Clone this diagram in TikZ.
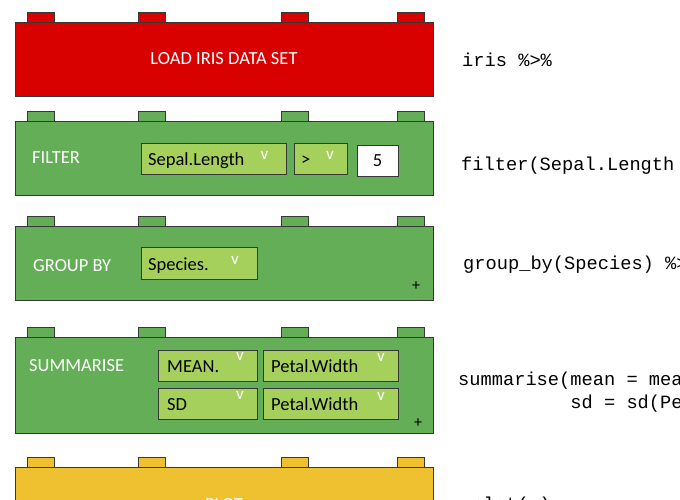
\documentclass[tikz,border=0pt]{standalone}
\usepackage{fontspec}
\setmainfont{Carlito}
\newfontfamily\codefont{Liberation Mono}

\definecolor{edge}{RGB}{55,55,55}
\definecolor{loadred}{RGB}{217,0,0}
\definecolor{verbgreen}{RGB}{99,174,86}
\definecolor{dropgreen}{RGB}{166,208,92}
\definecolor{plotyellow}{RGB}{239,192,48}

% a brick: four studs on top of a wide body
% #1 name, #2 top edge of the body, #3 body height, #4 fill colour
\newcommand{\legobrick}[4]{%
  \foreach \sx [count=\i] in {27,138,281,397}
    \node[stud, fill=#4] (#1-stud\i) at (\sx,#2) {};
  \node[block, fill=#4, minimum height=#3pt] (#1) at (15,#2) {};
}

\begin{document}
\begin{tikzpicture}[x=1pt, y=-1pt,
  block/.style={draw=edge, line width=0.9pt, minimum width=418pt,
    anchor=north west, inner sep=0pt, outer sep=0pt},
  stud/.style={draw=edge, line width=0.9pt, minimum width=27pt,
    minimum height=10pt, anchor=south west, inner sep=0pt, outer sep=0pt},
  verb/.style={text=white, inner sep=0pt, anchor=base west,
    font=\fontsize{18.5}{22}\selectfont},
  field/.style={draw=edge, line width=0.9pt, fill=dropgreen,
    minimum height=31pt, anchor=north west, inner sep=0pt},
  valuebox/.style={draw=edge, line width=0.9pt, fill=white,
    minimum height=31pt, anchor=north west, inner sep=0pt},
  fieldtext/.style={text=black, inner sep=0pt, anchor=base west,
    font=\fontsize{18.5}{22}\selectfont},
  caret/.style={text=white, inner sep=0pt,
    font=\fontsize{17}{20}\selectfont},
  addmark/.style={text=black, inner sep=0pt,
    font=\fontsize{16}{19}\selectfont},
  code/.style={inner sep=0pt, anchor=base west,
    font=\codefont\fontsize{18.7}{22}\selectfont}
]
\useasboundingbox (0,0) rectangle (680,500);
\begin{scope}
\clip (0,0) rectangle (680,500);

% ---------- bricks ----------
\legobrick{load}{22}{74}{loadred}
\legobrick{filter}{121}{74}{verbgreen}
\legobrick{group}{226}{74}{verbgreen}
\legobrick{summ}{337}{96}{verbgreen}
\legobrick{plot}{467}{74}{plotyellow}

% ---------- load ----------
\node[verb, anchor=base] (load-label) at (224,65) {LOAD IRIS DATA SET};

% ---------- filter ----------
\node[verb] (filter-label) at (32,164) {FILTER};
\node[field, minimum width=145pt] (f-col) at (141,143) {};
\node[fieldtext] (f-col-t) at (148,165) {Sepal.Length};
\node[caret] (f-col-v) at (264.5,155) {v};
\node[field, minimum width=53pt] (f-op) at (294,143) {};
\node[fieldtext] (f-op-t) at (301,165) {>};
\node[caret] (f-op-v) at (330,155) {v};
\node[valuebox, minimum width=41pt] (f-val) at (357,145) {};
\node[fieldtext, anchor=base] (f-val-t) at (377.5,166) {5};

% ---------- group by ----------
\node[verb] (group-label) at (33,271) {GROUP BY};
\node[field, minimum width=116pt, minimum height=32pt] (g-col) at (141,247) {};
\node[fieldtext] (g-col-t) at (148,270) {Species.};
\node[caret] (g-col-v) at (235,260) {v};
\node[addmark] (g-add) at (416,286) {+};

% ---------- summarise ----------
\node[verb] (summ-label) at (29,371) {SUMMARISE};
\node[field, minimum width=99pt] (s-f1) at (158,350) {};
\node[fieldtext] (s-f1-t) at (167,372) {MEAN.};
\node[caret] (s-f1-v) at (240,356) {v};
\node[field, minimum width=135pt] (s-c1) at (263,350) {};
\node[fieldtext] (s-c1-t) at (271,372) {Petal.Width};
\node[caret] (s-c1-v) at (381,357) {v};
\node[field, minimum width=99pt] (s-f2) at (158,388) {};
\node[fieldtext] (s-f2-t) at (167,410) {SD};
\node[caret] (s-f2-v) at (240,395) {v};
\node[field, minimum width=135pt] (s-c2) at (263,388) {};
\node[fieldtext] (s-c2-t) at (271,410) {Petal.Width};
\node[caret] (s-c2-v) at (381,396) {v};
\node[addmark] (s-add) at (418,423) {+};

% ---------- plot ----------
\node[verb, anchor=base] (plot-label) at (224,510) {PLOT};

% ---------- matching R code ----------
\node[code] (c-load) at (462,67) {iris \%>\%};
\node[code] (c-filter) at (461,170) {filter(Sepal.Length > 5) \%>\%};
\node[code] (c-group) at (463,269) {group\_by(Species) \%>\%};
\node[code] (c-summ) at (458,385) {summarise(mean = mean(Petal.Width),};
\node[code] (c-summ2) at (458,408) {\phantom{summarise(}sd = sd(Petal.Width)) \%>\%};
\node[code] (c-plot) at (461,510) {qplot(x)};
\end{scope}
\end{tikzpicture}
\end{document}
